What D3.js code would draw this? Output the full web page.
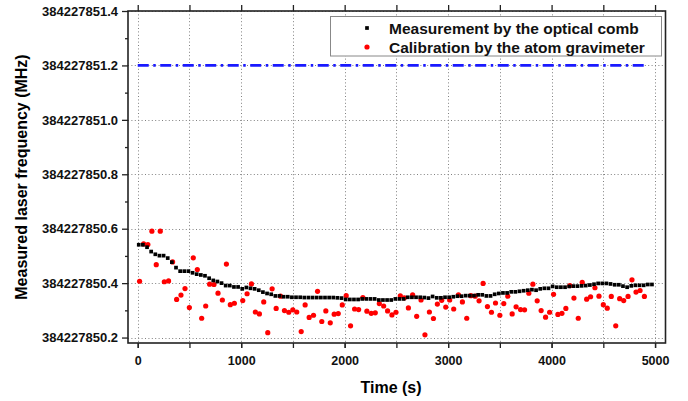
<!DOCTYPE html>
<html><head><meta charset="utf-8">
<script src="https://cdn.jsdelivr.net/npm/d3@7"></script>
<style>
body{margin:0;background:#fff;}
text{font-family:"Liberation Sans",Arial,sans-serif;}
</style>
</head><body><svg id="c" width="688" height="401"></svg>
<script>
// ---- Data ----
const combTime = [10,50,90,130,170,210,250,290,330,370,410,450,490,530,570,610,650,690,730,770,810,850,890,930,
970,1010,1050,1090,1130,1170,1210,1250,1290,1330,1370,1410,1450,1490,1530,1570,1610,1650,1690,1730,1770,1810,1850,1890,1930,
1970,2010,2050,2090,2130,2170,2210,2250,2290,2330,2370,2410,2450,2490,2530,2570,2610,2650,2690,2730,2770,2810,2850,2890,2930,2970,3010,
3050,3090,3130,3170,3210,3250,3290,3330,3370,3410,3450,3490,3530,3570,3610,3650,3690,3730,3770,3810,3850,3890,3930,3970,4010,4050,
4090,4130,4170,4210,4250,4290,4330,4370,4410,4450,4490,4530,4570,4610,4650,4690,4730,4770,4810,4850,4890,4930,4970];
const combValue = [384227850.541,384227850.541,384227850.532,384227850.516,384227850.506,384227850.501,384227850.501,384227850.492,384227850.477,384227850.457,384227850.444,384227850.444,384227850.444,384227850.438,384227850.433,384227850.430,384227850.427,384227850.418,384227850.410,384227850.406,384227850.400,384227850.391,384227850.391,384227850.386,
384227850.386,384227850.379,384227850.384,384227850.381,384227850.379,384227850.374,384227850.367,384227850.362,384227850.359,384227850.353,384227850.353,384227850.350,384227850.350,384227850.348,384227850.348,384227850.348,384227850.347,384227850.347,384227850.347,384227850.347,384227850.347,384227850.347,384227850.347,384227850.347,384227850.346,
384227850.345,384227850.340,384227850.340,384227850.340,384227850.340,384227850.342,384227850.342,384227850.342,384227850.342,384227850.338,384227850.338,384227850.338,384227850.338,384227850.342,384227850.342,384227850.342,384227850.348,384227850.348,384227850.348,384227850.348,384227850.347,384227850.345,384227850.351,384227850.346,384227850.346,384227850.348,384227850.348,
384227850.350,384227850.352,384227850.352,384227850.354,384227850.354,384227850.354,384227850.357,384227850.357,384227850.353,384227850.353,384227850.359,384227850.362,384227850.364,384227850.364,384227850.368,384227850.368,384227850.370,384227850.372,384227850.374,384227850.376,384227850.374,384227850.379,384227850.381,384227850.381,384227850.388,384227850.385,
384227850.385,384227850.385,384227850.388,384227850.389,384227850.389,384227850.390,384227850.391,384227850.393,384227850.396,384227850.399,384227850.399,384227850.399,384227850.397,384227850.394,384227850.394,384227850.389,384227850.385,384227850.390,384227850.392,384227850.392,384227850.392,384227850.395,384227850.395];

const gravTime = [18,57,98,137,179,218,257,298,337,376,418,457,499,537,576,618,657,695,737,776,818,857,895,934,
1015,1057,1099,1137,1176,1218,1257,1299,1338,1380,1418,1460,1499,1537,1580,1618,1657,1699,1738,1779,1818,1861,1899,1938,1977,
2015,2057,2096,2135,2176,2215,2257,2296,2335,2377,2415,2457,2496,2538,2577,2616,2657,2696,2738,2776,2819,2858,2896,2938,2977,3015,3054,
3100,3138,3180,3219,3261,3299,3338,3380,3419,3458,3500,3538,3577,3619,3657,3700,3739,3780,3819,3861,3899,3942,3981,4019,4061,4100,
4138,4177,4216,4258,4296,4339,4377,4419,4458,4500,4538,4577,4620,4658,4697,4739,4777,4816,4855,4897];
const gravValue = [384227850.407,384227850.544,384227850.542,384227850.591,384227850.468,384227850.591,384227850.405,384227850.408,384227850.478,384227850.340,384227850.356,384227850.380,384227850.310,384227850.493,384227850.450,384227850.271,384227850.316,384227850.396,384227850.395,384227850.363,384227850.338,384227850.470,384227850.321,384227850.326,
384227850.336,384227850.361,384227850.397,384227850.294,384227850.287,384227850.331,384227850.218,384227850.379,384227850.307,384227850.352,384227850.299,384227850.293,384227850.302,384227850.294,384227850.222,384227850.320,384227850.274,384227850.282,384227850.370,384227850.259,384227850.298,384227850.254,384227850.286,384227850.288,384227850.320,
384227850.354,384227850.243,384227850.305,384227850.303,384227850.347,384227850.297,384227850.289,384227850.291,384227850.325,384227850.316,384227850.298,384227850.283,384227850.293,384227850.353,384227850.346,384227850.309,384227850.357,384227850.278,384227850.338,384227850.210,384227850.294,384227850.270,384227850.323,384227850.337,384227850.312,384227850.338,384227850.305,
384227850.357,384227850.331,384227850.271,384227850.354,384227850.352,384227850.335,384227850.399,384227850.314,384227850.293,384227850.327,384227850.282,384227850.325,384227850.352,384227850.287,384227850.313,384227850.303,384227850.302,384227850.363,384227850.396,384227850.335,384227850.299,384227850.275,384227850.293,384227850.359,384227850.285,384227850.289,
384227850.307,384227850.391,384227850.345,384227850.271,384227850.403,384227850.341,384227850.350,384227850.383,384227850.352,384227850.321,384227850.308,384227850.351,384227850.243,384227850.343,384227850.336,384227850.351,384227850.412,384227850.367,384227850.373,384227850.351];

const refTime = [0, 4900];
const refValue = [384227851.2, 384227851.2];

const xTickValues = [0,1000,2000,3000,4000,5000];
const xMinorValues = [0,500,1000,1500,2000,2500,3000,3500,4000,4500,5000];
const yTickValues = [384227850.2,384227850.4,384227850.6,384227850.8,384227851.0,384227851.2,384227851.4];
const yMinorValues = [384227850.3,384227850.5,384227850.7,384227850.9,384227851.1,384227851.3];
const legendLabels = ["Measurement by the optical comb","Calibration by the atom gravimeter"];
const xTitle = "Time (s)";
const yTitle = "Measured laser frequency (MHz)";

// ---- Drawing ----
const svg = d3.select("#c");
const L=128, R=665.5, T=11, B=343;
const x = d3.scaleLinear().domain([-94,5101]).range([L,R]);
const y = d3.scaleLinear().domain([384227850.18,384227851.4]).range([B,T]);

// grid
const grid = svg.append("g").attr("stroke","#808080").attr("stroke-width",1).attr("stroke-dasharray","1,2.4");
grid.selectAll("line.v").data(xMinorValues).join("line").attr("class","v")
  .attr("x1",d=>Math.round(x(d))+0.5).attr("x2",d=>Math.round(x(d))+0.5).attr("y1",T).attr("y2",B);
grid.selectAll("line.h").data(yTickValues).join("line").attr("class","h")
  .attr("y1",d=>Math.round(y(d))+0.5).attr("y2",d=>Math.round(y(d))+0.5).attr("x1",L).attr("x2",R);

// reference line
svg.append("path")
  .attr("d", d3.line().x(d=>x(d[0])).y(d=>y(d[1]))(refTime.map((t,i)=>[t,refValue[i]])))
  .attr("stroke","#1a1aff").attr("stroke-width",2.8).attr("fill","none")
  .attr("stroke-dasharray","11,4.5,2.5,4.5");

// gravimeter dots
svg.append("g").selectAll("circle").data(gravTime).join("circle")
  .attr("cx",(d)=>x(d)).attr("cy",(d,i)=>y(gravValue[i])).attr("r",2.6).attr("fill","#ff0000");

// comb squares
const s=3.7;
svg.append("g").selectAll("rect").data(combTime).join("rect")
  .attr("x",d=>x(d)-s/2).attr("y",(d,i)=>y(combValue[i])-s/2).attr("width",s).attr("height",s).attr("fill","#000");

// axes
function styleAxis(g, fs){
  g.select(".domain").remove();
  g.selectAll(".tick line").attr("stroke","#222").attr("stroke-width",1.3);
  g.selectAll(".tick text").attr("font-size",fs).attr("font-weight","bold").attr("fill","#111")
   .attr("font-family",'"Liberation Sans",Arial,sans-serif');
}
svg.append("g").attr("transform",`translate(${L},0)`)
  .call(d3.axisLeft(y).tickValues(yTickValues).tickFormat(d3.format(".1f")).tickSize(6).tickPadding(4))
  .call(g=>styleAxis(g,13));
svg.append("g").attr("transform",`translate(${L},0)`)
  .call(d3.axisLeft(y).tickValues(yMinorValues).tickFormat("").tickSize(3))
  .call(g=>styleAxis(g,13));
svg.append("g").attr("transform",`translate(0,${B})`)
  .call(d3.axisBottom(x).tickValues(xTickValues).tickFormat(d3.format("d")).tickSize(5).tickPadding(8))
  .call(g=>styleAxis(g,12.5));
svg.append("g").attr("transform",`translate(0,${B})`)
  .call(d3.axisBottom(x).tickValues(xMinorValues).tickFormat("").tickSize(5))
  .call(g=>styleAxis(g,12));
svg.append("g").attr("transform",`translate(0,${T})`)
  .call(d3.axisTop(x).tickValues(xMinorValues).tickFormat("").tickSize(6))
  .call(g=>styleAxis(g,12));

// frame
svg.append("rect").attr("x",L).attr("y",T).attr("width",R-L).attr("height",B-T)
  .attr("fill","none").attr("stroke","#222").attr("stroke-width",1.6);

// titles
svg.append("text").attr("x",391).attr("y",393).attr("text-anchor","middle")
  .attr("font-size",16).attr("font-weight","bold").text(xTitle);
svg.append("text").attr("transform","translate(27,177) rotate(-90)").attr("text-anchor","middle")
  .attr("font-size",16).attr("font-weight","bold").text(yTitle);

// legend
const lg = svg.append("g");
lg.append("rect").attr("x",330.5).attr("y",16.5).attr("width",331).attr("height",39.5)
  .attr("fill","#fff").attr("stroke","#888").attr("stroke-width",1);
lg.append("rect").attr("x",367-1.85).attr("y",28-1.85).attr("width",3.7).attr("height",3.7).attr("fill","#000");
lg.append("circle").attr("cx",367).attr("cy",47).attr("r",2.6).attr("fill","#ff0000");
lg.selectAll("text").data(legendLabels).join("text")
  .attr("x",389).attr("y",(d,i)=>33.5+i*19).attr("font-size",15.5).attr("font-weight","bold").attr("fill","#111")
  .text(d=>d);
</script>
</body></html>
